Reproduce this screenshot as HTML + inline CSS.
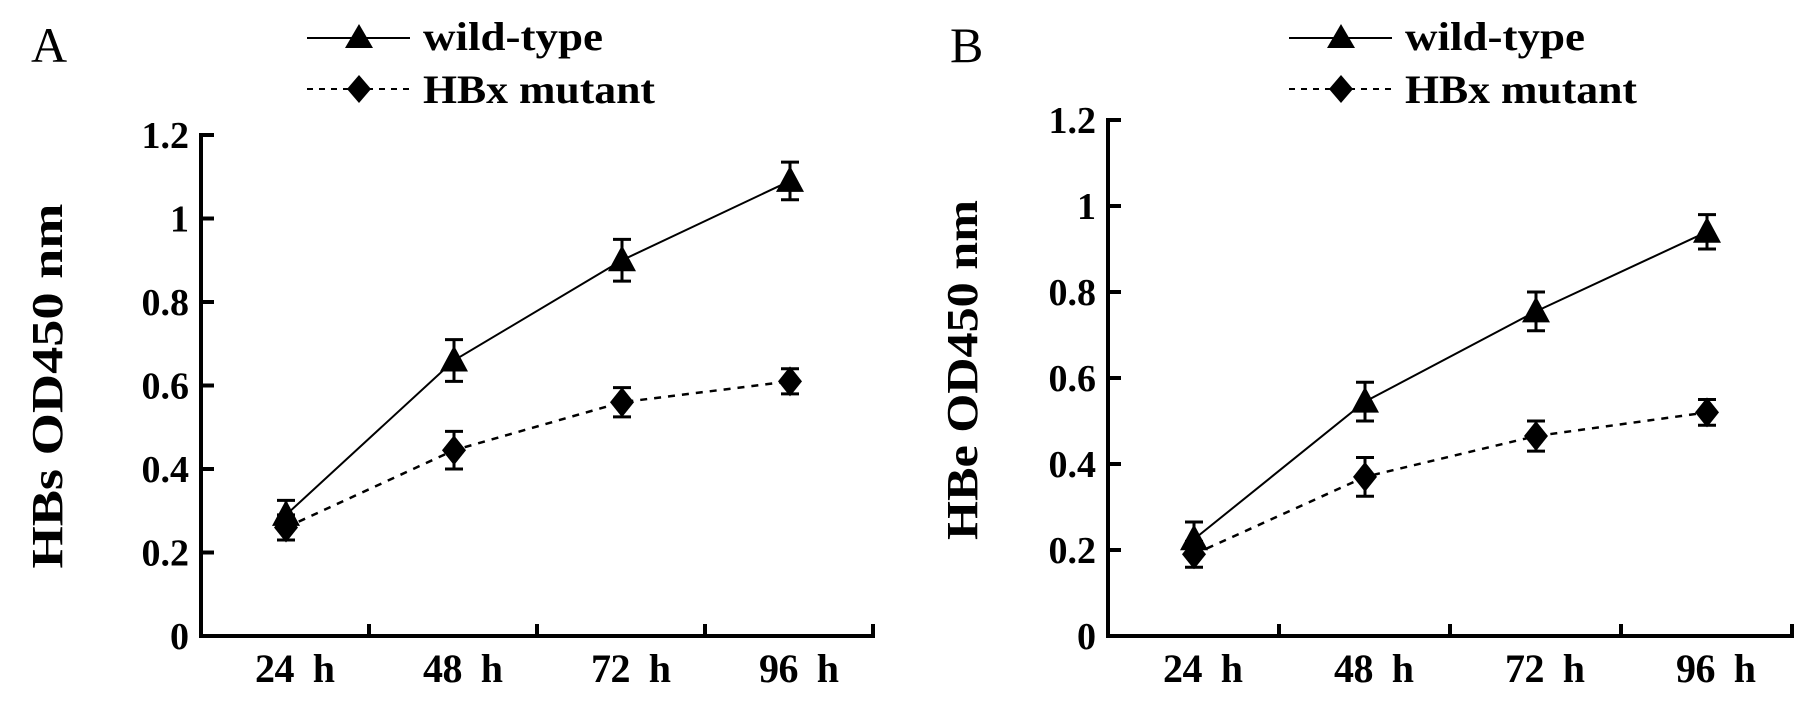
<!DOCTYPE html>
<html><head><meta charset="utf-8"><style>
html,body{margin:0;padding:0;background:#fff;}
svg{display:block;}
text{font-family:"Liberation Serif",serif;fill:#000;}
</style></head>
<body>
<svg id="fig" width="1819" height="704" viewBox="0 0 1819 704" xmlns="http://www.w3.org/2000/svg"></svg>
<script>
const categories = ["24 h","48 h","72 h","96 h"];
const yTicks = [0,0.2,0.4,0.6,0.8,1,1.2];
const yTickLabels = ["0","0.2","0.4","0.6","0.8","1","1.2"];
const hbsWild = [0.29,0.66,0.90,1.09];
const hbsWildErr = [0.035,0.05,0.05,0.045];
const hbsMut = [0.26,0.445,0.56,0.61];
const hbsMutErr = [0.03,0.045,0.035,0.03];
const hbeWild = [0.225,0.545,0.755,0.94];
const hbeWildErr = [0.04,0.045,0.045,0.04];
const hbeMut = [0.19,0.37,0.465,0.52];
const hbeMutErr = [0.03,0.045,0.035,0.03];

const NS="http://www.w3.org/2000/svg";
const svg=document.getElementById('fig');
function mk(tag,attrs,parent){const e=document.createElementNS(NS,tag);for(const k in attrs)e.setAttribute(k,attrs[k]);(parent||svg).appendChild(e);return e;}

function panel(cfg){
  const g=mk('g',{});
  
  
  const y=v=>cfg.y0-(v/1.2)*(cfg.y0-cfg.y12);
  const x=i=>cfg.ax+cfg.off+cfg.step*i;
  const L=mk('text',{x:cfg.letterX,y:62,'font-size':50},g);L.textContent=cfg.letter;
  
  
  const ya=mk('line',{x1:cfg.ax,y1:cfg.y12-2,x2:cfg.ax,y2:cfg.y0+2,stroke:'#000','stroke-width':4},g);
  
  
  const xa=mk('line',{x1:cfg.ax-2,y1:cfg.y0,x2:cfg.ax+cfg.step*4+2,y2:cfg.y0,stroke:'#000','stroke-width':4},g);
  
  
  yTicks.forEach((v,i)=>{
    mk('line',{x1:cfg.ax,y1:y(v),x2:cfg.ax+13,y2:y(v),stroke:'#000','stroke-width':4},g);
    const t=mk('text',{x:cfg.ax-12,y:y(v)+13,'font-size':38,'font-weight':'bold','text-anchor':'end'},g);
    t.textContent=yTickLabels[i];
    
    
  });
  categories.forEach((c,i)=>{
    const tx=cfg.ax+cfg.step*(i+1);
    mk('line',{x1:tx,y1:cfg.y0,x2:tx,y2:cfg.y0-12,stroke:'#000','stroke-width':4},g);
    const t=mk('text',{x:x(i)+9,y:cfg.y0+46,'font-size':40,'font-weight':'bold','text-anchor':'middle',textLength:80,lengthAdjust:'spacing'},g);
    t.textContent=c.replace(' ','\u00a0 ');
    
    
  });
  const yt=mk('text',{x:0,y:0,'font-size':44,'font-weight':'bold','text-anchor':'middle',textLength:cfg.titleLen,lengthAdjust:'spacingAndGlyphs',transform:`translate(${cfg.titleX},${cfg.titleY}) rotate(-90)`},g);
  yt.textContent=cfg.title;
  
  
  function series(vals,errs,dashed,marker,sname){
    const sg=mk('g',{},g);
    
    
    mk('polyline',{points:vals.map((v,i)=>x(i)+','+y(v)).join(' '),fill:'none',stroke:'#000','stroke-width':dashed?2.5:2,'stroke-dasharray':dashed?'7,7':'none'},sg);
    vals.forEach((v,i)=>{
      const cx=x(i),cy=y(v),t=y(v+errs[i]),b=y(v-errs[i]);
      mk('path',{d:`M${cx},${t}V${b}M${cx-9},${t}H${cx+9}M${cx-9},${b}H${cx+9}`,stroke:'#000','stroke-width':3,fill:'none'},sg);
      let m;
      if(marker==='tri') m=mk('polygon',{points:`${cx},${cy-15} ${cx-14},${cy+11} ${cx+14},${cy+11}`,fill:'#000'},sg);
      else m=mk('polygon',{points:`${cx},${cy-15} ${cx+12},${cy} ${cx},${cy+15} ${cx-12},${cy}`,fill:'#000'},sg);
      
      
    });
  }
  series(cfg.mut,cfg.mutErr,true,'dia','series-hbx-mutant');
  series(cfg.wild,cfg.wildErr,false,'tri','series-wild-type');
  const lg=mk('g',{},g);
  
  
  const lx=cfg.legX, lm=lx+52;
  mk('line',{x1:lx,y1:38,x2:lx+103,y2:38,stroke:'#000','stroke-width':2},lg);
  mk('polygon',{points:`${lm},${24} ${lm-14},${48} ${lm+14},${48}`,fill:'#000'},lg);
  const t1=mk('text',{x:lx+116,y:50,'font-size':40,'font-weight':'bold',textLength:180,lengthAdjust:'spacingAndGlyphs'},lg);
  t1.textContent='wild-type';
  
  
  mk('line',{x1:lx,y1:89,x2:lx+103,y2:89,stroke:'#000','stroke-width':2,'stroke-dasharray':'6,6'},lg);
  mk('polygon',{points:`${lm},${75} ${lm+12},${89} ${lm},${103} ${lm-12},${89}`,fill:'#000'},lg);
  const t2=mk('text',{x:lx+116,y:103,'font-size':40,'font-weight':'bold',textLength:232,lengthAdjust:'spacingAndGlyphs'},lg);
  t2.textContent='HBx mutant';
  
  
}

panel({name:'panel-a',letter:'A',letterX:31,ax:201,y0:636,y12:135,off:85,step:168,
  title:'HBs OD450 nm',titleX:62,titleY:386,titleLen:365,legX:307,
  wild:hbsWild,wildErr:hbsWildErr,mut:hbsMut,mutErr:hbsMutErr});
panel({name:'panel-b',letter:'B',letterX:950,ax:1108,y0:636,y12:120,off:86,step:171,
  title:'HBe OD450 nm',titleX:977,titleY:370,titleLen:340,legX:1289,
  wild:hbeWild,wildErr:hbeWildErr,mut:hbeMut,mutErr:hbeMutErr});
</script>
</body></html>
